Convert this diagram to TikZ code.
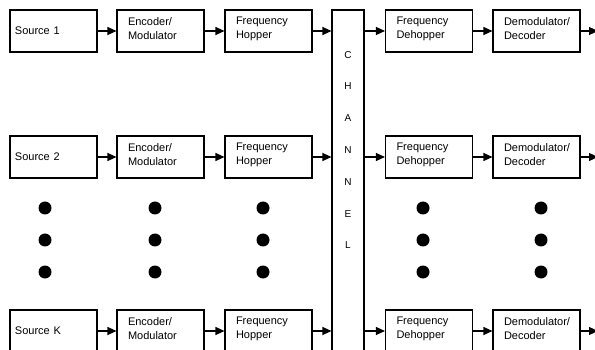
\documentclass[tikz,border=0pt]{standalone}
\usepackage{fontspec}
\setmainfont{Liberation Sans}
\usetikzlibrary{arrows.meta}

\begin{document}
\begin{tikzpicture}[x=1pt, y=-1pt,
        box/.style={draw, line width=1.1pt, minimum width=87pt, minimum height=42pt, inner sep=0pt, align=left, text width=65pt, font=\fontsize{11}{14}\selectfont},
        srcbox/.style={box, text width=77pt},
        arr/.style={line width=1.1pt, -{Triangle[length=9pt,width=8pt]}}]
        \useasboundingbox (0,0) rectangle (595,350);
        \clip (0,0) rectangle (595,350);

        \node[srcbox] (src1) at (53.5,31) {Source 1};
        \node[box] (enc1) at (160.5,31) {Encoder/\\Modulator\vspace{4pt}};
        \node[box] (hop1) at (268.5,31) {Frequency\\Hopper\vspace{4pt}};
        \node[box] (deh1) at (429,31) {Frequency\\Dehopper\vspace{4pt}};
        \node[box] (dem1) at (536.5,31) {Demodulator/\\Decoder\vspace{4pt}};
        \coordinate (out1) at (598,31);

        \node[srcbox] (src2) at (53.5,157) {Source 2};
        \node[box] (enc2) at (160.5,157) {Encoder/\\Modulator\vspace{4pt}};
        \node[box] (hop2) at (268.5,157) {Frequency\\Hopper\vspace{4pt}};
        \node[box] (deh2) at (429,157) {Frequency\\Dehopper\vspace{4pt}};
        \node[box] (dem2) at (536.5,157) {Demodulator/\\Decoder\vspace{4pt}};
        \coordinate (out2) at (598,157);

        \node[srcbox] (srcK) at (53.5,331) {Source K};
        \node[box] (encK) at (160.5,331) {Encoder/\\Modulator\vspace{4pt}};
        \node[box] (hopK) at (268.5,331) {Frequency\\Hopper\vspace{4pt}};
        \node[box] (dehK) at (429,331) {Frequency\\Dehopper\vspace{4pt}};
        \node[box] (demK) at (536.5,331) {Demodulator/\\Decoder\vspace{4pt}};
        \coordinate (outK) at (598,331);

        \node[draw, line width=1.1pt, minimum width=32pt, minimum height=370pt, inner sep=0pt] (chan) at (348,195) {};
        \node[align=center, inner sep=0pt, font=\fontsize{10}{31.8}\selectfont] (chanlabel) at (348,150) {C\\H\\A\\N\\N\\E\\L};

        \draw[arr] (src1) -- (enc1);
        \draw[arr] (enc1) -- (hop1);
        \draw[arr] (hop1) -- (hop1 -| chan.west);
        \draw[arr] (deh1 -| chan.east) -- (deh1);
        \draw[arr] (deh1) -- (dem1);
        \draw[arr] (dem1) -- (out1);

        \draw[arr] (src2) -- (enc2);
        \draw[arr] (enc2) -- (hop2);
        \draw[arr] (hop2) -- (hop2 -| chan.west);
        \draw[arr] (deh2 -| chan.east) -- (deh2);
        \draw[arr] (deh2) -- (dem2);
        \draw[arr] (dem2) -- (out2);

        \draw[arr] (srcK) -- (encK);
        \draw[arr] (encK) -- (hopK);
        \draw[arr] (hopK) -- (hopK -| chan.west);
        \draw[arr] (dehK -| chan.east) -- (dehK);
        \draw[arr] (dehK) -- (demK);
        \draw[arr] (demK) -- (outK);

        % dots between rows 2 and K
        \fill (45,208) circle (6.5) (45,240) circle (6.5) (45,272) circle (6.5);
        \fill (155,208) circle (6.5) (155,240) circle (6.5) (155,272) circle (6.5);
        \fill (263,208) circle (6.5) (263,240) circle (6.5) (263,272) circle (6.5);
        \fill (423,208) circle (6.5) (423,240) circle (6.5) (423,272) circle (6.5);
        \fill (541,208) circle (6.5) (541,240) circle (6.5) (541,272) circle (6.5);
    \end{tikzpicture}
\end{document}
